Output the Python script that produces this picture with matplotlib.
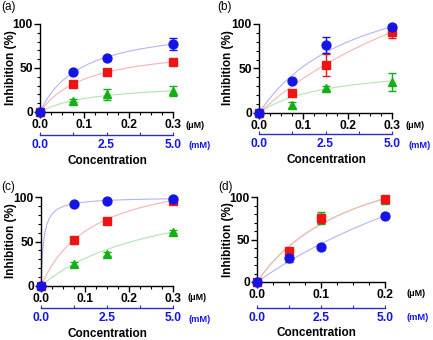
import numpy as np
import matplotlib
matplotlib.use("Agg")
import matplotlib.pyplot as plt
from matplotlib.ticker import MultipleLocator

plt.rcParams['font.family'] = ['Liberation Sans', 'DejaVu Sans']

# ---------------- data ----------------
panel_labels = ["(a)", "(b)", "(c)", "(d)"]
x_abc = [0.0, 0.075, 0.15, 0.3]
x_d = [0.0, 0.05, 0.1, 0.2]

a_blue = [0, 45, 61, 77];  a_blue_err = [0, 2, 2, 7]
a_red = [0, 32, 45, 57];   a_red_err = [0, 2, 2, 3]
a_green = [0, 13, 20, 24]; a_green_err = [0, 2, 6, 6]

b_blue = [0, 36, 76, 97];  b_blue_err = [0, 2, 9, 2]
b_red = [0, 23, 54, 91];   b_red_err = [0, 3, 12, 7]
b_green = [0, 9, 28, 35];  b_green_err = [0, 3, 2, 10]

c_blue = [0, 92, 96, 98];  c_blue_err = [0, 1, 1, 1]
c_red = [0, 52, 73, 96];   c_red_err = [0, 2, 2, 1]
c_green = [0, 25, 36, 61]; c_green_err = [0, 2, 2, 2]

d_blue = [0, 28, 41, 78];  d_blue_err = [0, 4, 2, 2]
d_green = [0, 37, 75, 97]; d_green_err = [0, 3, 7, 2]
d_red = [0, 37, 75, 98];   d_red_err = [0, 3, 5, 2]

# hyperbolic fit parameters (Imax, K) for each curve
fit_a = {"blue": (101, 0.093), "red": (77, 0.106), "green": (33.5, 0.118)}
fit_b = {"blue": (169, 0.223), "red": (273, 0.6), "green": (54, 0.15)}
fit_c = {"blue": (100, 0.006), "red": (134, 0.118), "green": (117, 0.277)}
fit_d = {"blue": (292, 0.55), "red": (175, 0.157), "green": (180, 0.165)}

xmax_abc = 0.3
xmax_d = 0.2
xticks_abc = [0.0, 0.1, 0.2, 0.3]
xticks_d = [0.0, 0.1, 0.2]
mm_ticks = [0.0, 2.5, 5.0]
yticks = [0, 50, 100]

# ---------------- style ----------------
W, H = 433, 340
fig = plt.figure(figsize=(W / 100, H / 100), dpi=100)

BLUE = "#1414e6"
RED = "#ee1414"
GREEN = "#12b012"
LBLUE = "#b4b4f2"
LRED = "#f6b4b4"
LGREEN = "#b0e6b0"
AXBLUE = "#2b2bc8"

series_style = {
    "green": dict(color=GREEN, light=LGREEN, marker="^", ms=6.2),
    "red": dict(color=RED, light=LRED, marker="s", ms=5.8),
    "blue": dict(color=BLUE, light=LBLUE, marker="o", ms=6.4),
}


def px_axes(left, right, top, bottom):
    return fig.add_axes([left / W, 1 - bottom / H, (right - left) / W, (bottom - top) / H])


def draw_panel(geom, label, xs, data, fits, xmax, xticks, sec_y, texts):
    left, right, top, bottom = geom
    ax = px_axes(left, right, top, bottom)
    ax.set_xlim(0, xmax)
    ax.set_ylim(0, 100)
    for s in ["top", "right"]:
        ax.spines[s].set_visible(False)
    for s in ["left", "bottom"]:
        ax.spines[s].set_linewidth(1.0)
    ax.set_xticks(xticks)
    ax.set_xticklabels([f"{v:.1f}" for v in xticks])
    ax.set_yticks(yticks)
    ax.xaxis.set_minor_locator(MultipleLocator(0.025))
    ax.yaxis.set_minor_locator(MultipleLocator(10))
    ax.tick_params(axis="both", which="major", length=4, width=1.0, labelsize=8.7, pad=1.2)
    ax.tick_params(axis="both", which="minor", length=2.2, width=0.8)
    for t in ax.get_xticklabels() + ax.get_yticklabels():
        t.set_fontweight("bold")

    xx = np.linspace(0, xmax, 300)
    for name in ["green", "red", "blue"]:
        st = series_style[name]
        imax, k = fits[name]
        ax.plot(xx, imax * xx / (k + xx), color=st["light"], lw=0.8, zorder=2, clip_on=False)
    for name in ["green", "red", "blue"]:
        st = series_style[name]
        ys, es = data[name]
        ax.errorbar(xs, ys, yerr=es, fmt=st["marker"], color=st["color"], ms=st["ms"],
                    mec=st["color"], mfc=st["color"], elinewidth=1.0, capsize=2.8,
                    capthick=1.0, zorder=4, clip_on=False)

    # secondary (mM) axis
    ax2 = px_axes(left, right, sec_y - 1, sec_y)
    ax2.set_xlim(0, 5)
    ax2.patch.set_visible(False)
    for s in ["top", "right", "left"]:
        ax2.spines[s].set_visible(False)
    ax2.spines["bottom"].set_color(AXBLUE)
    ax2.spines["bottom"].set_linewidth(1.0)
    ax2.set_yticks([])
    ax2.set_xticks(mm_ticks)
    ax2.set_xticklabels([f"{v:.1f}" for v in mm_ticks])
    ax2.xaxis.set_minor_locator(MultipleLocator(1.25))
    ax2.tick_params(axis="x", which="both", direction="in", colors=AXBLUE, length=2.5,
                    width=0.8, labelsize=8.7, pad=3)
    for t in ax2.get_xticklabels():
        t.set_fontweight("bold")
        t.set_color(BLUE)

    # texts (pixel positions)
    (lx, ly), (ylx, yly), (umx, umy), (mmx, mmy), (cx, cy) = texts
    fig.text(lx / W, 1 - ly / H, label, fontsize=8.5, ha="left", va="center")
    fig.text(ylx / W, 1 - yly / H, "Inhibition (%)", fontsize=8.5, fontweight="bold",
             rotation=90, ha="center", va="center")
    fig.text(umx / W, 1 - umy / H, "(\u03bcM)", fontsize=6.4, fontweight="bold",
             ha="center", va="center")
    fig.text(mmx / W, 1 - mmy / H, "(mM)", fontsize=6.7, fontweight="bold",
             color=BLUE, ha="center", va="center")
    fig.text(cx / W, 1 - cy / H, "Concentration", fontsize=8.5, fontweight="bold",
             ha="center", va="center")
    return ax


draw_panel((40, 173, 24, 112), panel_labels[0], x_abc,
           {"blue": (a_blue, a_blue_err), "red": (a_red, a_red_err), "green": (a_green, a_green_err)},
           fit_a, xmax_abc, xticks_abc, 135,
           [(1, 7), (11, 68), (195, 125), (200, 146), (107, 161)])

draw_panel((259, 392, 24, 113), panel_labels[1], x_abc,
           {"blue": (b_blue, b_blue_err), "red": (b_red, b_red_err), "green": (b_green, b_green_err)},
           fit_b, xmax_abc, xticks_abc, 134,
           [(217, 7), (228, 68), (415, 125), (420, 146), (326, 160)])

draw_panel((41, 173, 197, 286), panel_labels[2], x_abc,
           {"blue": (c_blue, c_blue_err), "red": (c_red, c_red_err), "green": (c_green, c_green_err)},
           fit_c, xmax_abc, xticks_abc, 308,
           [(1, 187), (11, 241), (197, 298), (200, 319), (107, 334)])

draw_panel((257, 385, 197, 282), panel_labels[3], x_d,
           {"blue": (d_blue, d_blue_err), "red": (d_red, d_red_err), "green": (d_green, d_green_err)},
           fit_d, xmax_d, xticks_d, 308,
           [(218, 187), (228, 240), (416, 294), (418, 318), (316, 333)])

fig.savefig("out.png", dpi=100)
